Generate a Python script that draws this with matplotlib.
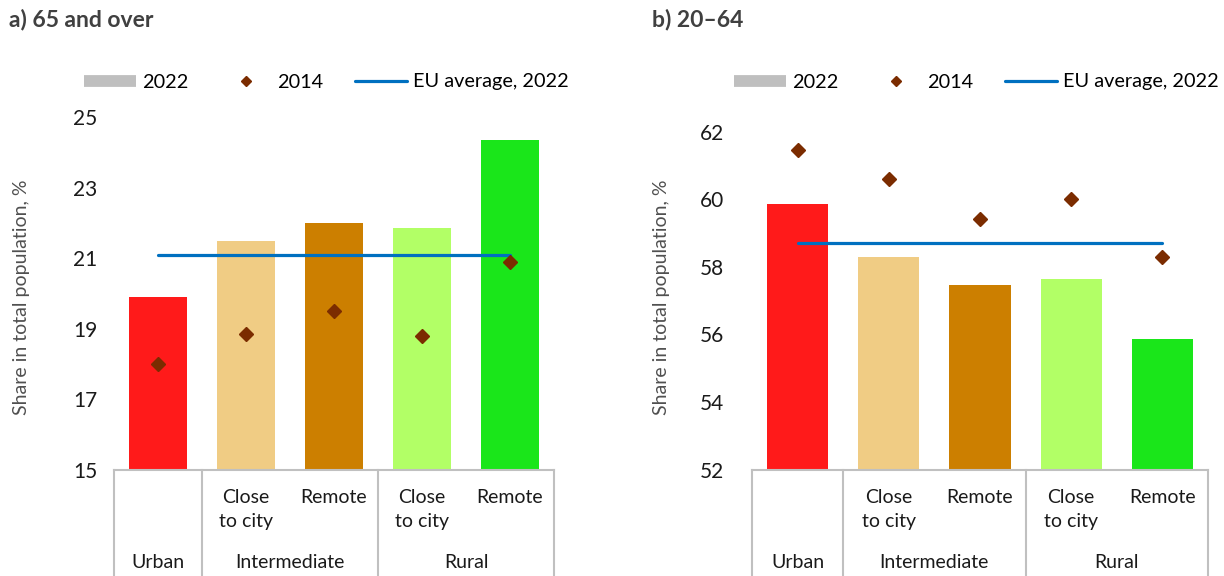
import numpy as np
import matplotlib
matplotlib.use('Agg')
import matplotlib.pyplot as plt
from matplotlib.lines import Line2D
from matplotlib.transforms import blended_transform_factory

plt.rcParams['font.family'] = ['Lato', 'DejaVu Sans']

# data
types = ['Urban', 'Intermediate close to city', 'Intermediate remote',
         'Rural close to city', 'Rural remote']
sub_labels = ['', 'Close\nto city', 'Remote', 'Close\nto city', 'Remote']
groups = ['Urban', 'Intermediate', 'Rural']
group_pos = [0, 1.5, 3.5]

old_2022 = [19.9, 21.5, 22.0, 21.85, 24.35]
old_2014 = [18.0, 18.85, 19.5, 18.8, 20.9]
old_eu = 21.08

work_2022 = [59.85, 58.3, 57.45, 57.65, 55.85]
work_2014 = [61.45, 60.6, 59.4, 60.0, 58.3]
work_eu = 58.7

bar_colors = ['#FF1A1A', '#F0CC84', '#CC7F00', '#B2FF66', '#1AE61A']
diamond_color = '#7B2C00'
eu_color = '#0070C0'
grid_gray = '#C0C0C0'

W, H = 1224, 576
fig = plt.figure(figsize=(W / 100, H / 100), dpi=100)


def draw_panel(ax, v22, v14, eu, ylim, yticks, pad):
    x = np.arange(len(v22))
    ax.bar(x, v22, width=0.67, color=bar_colors, zorder=1)
    ax.plot([x[0], x[-1]], [eu, eu], color=eu_color, lw=2.3,
            solid_capstyle='round', zorder=2)
    ax.plot(x, v14, ls='none', marker='D', ms=7.5, color=diamond_color, zorder=3)

    for s in ['left', 'right', 'top']:
        ax.spines[s].set_visible(False)
    ax.spines['bottom'].set_color(grid_gray)
    ax.spines['bottom'].set_linewidth(1.5)
    ax.set_xticks([])
    ax.set_yticks(yticks)
    ax.tick_params(axis='y', length=0, pad=pad, labelsize=15, labelcolor='#1a1a1a')

    # category boxes below the axis
    tr = blended_transform_factory(ax.transData, fig.transFigure)
    y0 = ax.get_position().y0
    for xs in [-0.5, 0.5, 2.5, 4.5]:
        ax.add_line(Line2D([xs, xs], [y0, 0], transform=tr, clip_on=False,
                           color=grid_gray, lw=1.5))
    for i, lab in enumerate(sub_labels):
        if lab:
            ax.text(i, 1 - 489 / H, lab, transform=tr, ha='center', va='top',
                    fontsize=14, color='#1a1a1a', linespacing=1.5)
    for gp, g in zip(group_pos, groups):
        ax.text(gp, 1 - 562 / H, g, transform=tr, ha='center', va='center',
                fontsize=14, color='#1a1a1a')

    ax.set_xlim(-0.5, 4.5)
    ax.set_ylim(*ylim)


axL = fig.add_axes([114 / W, (H - 470) / H, 440 / W, (470 - 117) / H])
draw_panel(axL, old_2022, old_2014, old_eu, (15, 25), [15, 17, 19, 21, 23, 25], 12)

axR = fig.add_axes([752 / W, (H - 469.5) / H, 456 / W, (469.5 - 131.5) / H])
draw_panel(axR, work_2022, work_2014, work_eu, (52, 62), [52, 54, 56, 58, 60, 62], 20)

# titles and axis labels
fig.text(9 / W, 1 - 20 / H, 'a) 65 and over', fontsize=16.5, fontweight='bold',
         color='#404040', ha='left', va='center')
fig.text(652 / W, 1 - 20 / H, 'b) 20\u201364', fontsize=16.5, fontweight='bold',
         color='#404040', ha='left', va='center')
for xl in [22, 662]:
    fig.text(xl / W, 1 - 297 / H, 'Share in total population, %', rotation=90,
             fontsize=14, color='#505050', ha='center', va='center')

# legends
handles = [Line2D([], [], color='#BFBFBF', lw=8.5, solid_capstyle='butt'),
           Line2D([], [], ls='none', marker='D', ms=5, color=diamond_color),
           Line2D([], [], color=eu_color, lw=2.3, solid_capstyle='round')]
labels = ['2022', '2014', 'EU average, 2022']
for lx in [84, 734]:
    fig.legend(handles, labels, ncol=3, loc='center left',
               bbox_to_anchor=(lx / W, 1 - 82 / H), frameon=False, borderpad=0,
               borderaxespad=0, handlelength=2.6, handletextpad=0.3,
               columnspacing=1.6, fontsize=14.3)

fig.savefig('out.png', dpi=100)
